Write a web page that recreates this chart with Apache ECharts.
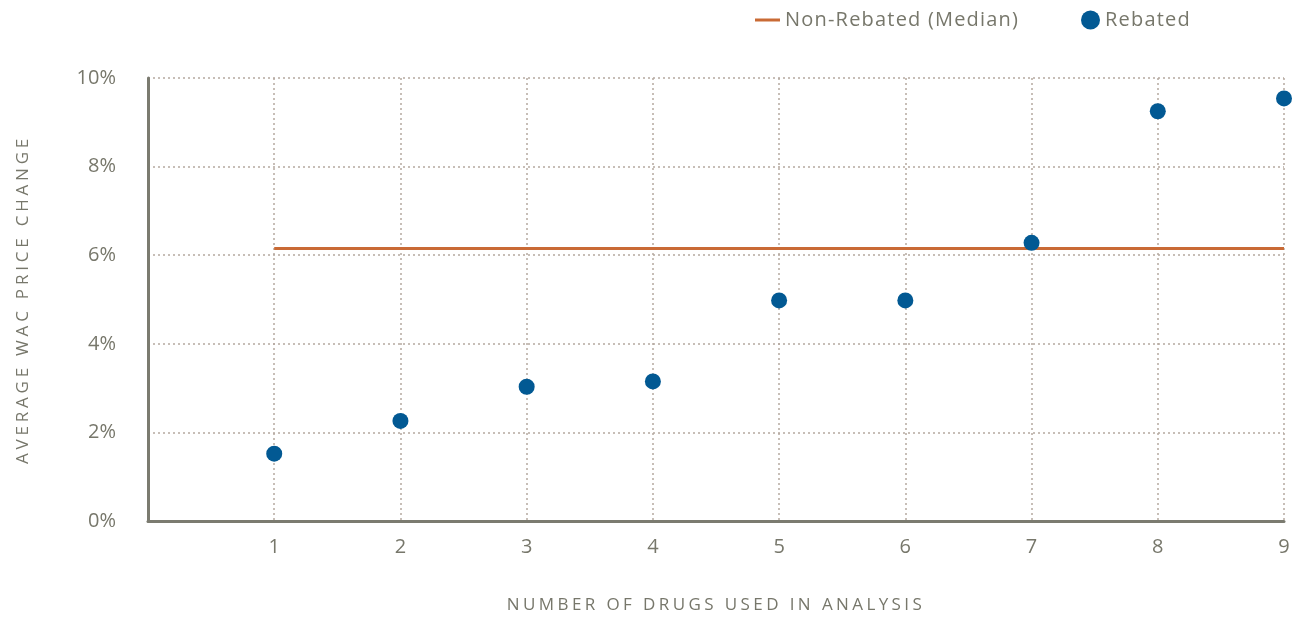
<!DOCTYPE html>
<html>
<head>
<meta charset="utf-8">
<script src="https://cdn.jsdelivr.net/npm/echarts@6/dist/echarts.min.js"></script>
<style>html,body{margin:0;padding:0;background:#fff}#c{width:1295px;height:619px}</style>
</head>
<body>
<div id="c"></div>
<script>
const drugCounts = [1, 2, 3, 4, 5, 6, 7, 8, 9];
const rebatedValues = [1.52, 2.26, 3.03, 3.15, 4.98, 4.98, 6.28, 9.25, 9.54];
const medianValue = 6.15;
const medianRange = [1, 9];
const yTicks = [0, 2, 4, 6, 8, 10];
const seriesNames = ['Non-Rebated (Median)', 'Rebated'];
const xAxisTitle = 'NUMBER OF DRUGS USED IN ANALYSIS';
const yAxisTitle = 'AVERAGE WAC PRICE CHANGE';

// tracking (letter spacing) applied at draw time, to mimic the wide source typeface
const tracking = {};
tracking[xAxisTitle] = 3.4;
tracking[yAxisTitle] = 3.8;
tracking[seriesNames[0]] = 1.2;
tracking[seriesNames[1]] = 1.2;
(function () {
  const proto = CanvasRenderingContext2D.prototype;
  const orig = proto.fillText;
  proto.fillText = function (t, x, y, m) {
    if ('letterSpacing' in this) {
      this.letterSpacing = (tracking[t] || 0) + 'px';
    }
    if (m === undefined) orig.call(this, t, x, y); else orig.call(this, t, x, y, m);
    if ('letterSpacing' in this) this.letterSpacing = '0px';
  };
})();

const textColor = '#77776b';
const font = '"Open Sans", sans-serif';
const chart = echarts.init(document.getElementById('c'));
chart.setOption({
  animation: false,
  grid: { left: 148, right: 11, top: 78, bottom: 97 },
  legend: [
    { data: [seriesNames[0]], left: 750, top: 5, itemWidth: 25, itemHeight: 3, icon: 'rect',
      textStyle: { color: textColor, fontSize: 20, fontFamily: font }, itemGap: 10 },
    { data: [seriesNames[1]], left: 1076, top: 5, itemWidth: 19, itemHeight: 19, icon: 'circle',
      textStyle: { color: textColor, fontSize: 20, fontFamily: font }, itemGap: 10 }
  ],
  xAxis: {
    type: 'value', min: 0, max: 9, interval: 1,
    name: xAxisTitle, nameLocation: 'middle', nameGap: 76,
    nameTextStyle: { color: textColor, fontSize: 17, fontFamily: font },
    axisLine: { show: true, onZero: false, lineStyle: { color: '#7b7b70', width: 3 } },
    axisTick: { show: false },
    axisLabel: { color: textColor, fontSize: 20, fontFamily: font, margin: 16,
      formatter: v => (v === 0 ? '' : String(v)) },
    splitLine: { show: true, lineStyle: { color: '#b5a9a0', type: [2, 3], width: 1.5 } }
  },
  yAxis: {
    type: 'value', min: 0, max: 10, interval: 2,
    name: yAxisTitle, nameLocation: 'middle', nameGap: 116, nameRotate: 90,
    nameTextStyle: { color: textColor, fontSize: 17, fontFamily: font },
    axisLine: { show: true, lineStyle: { color: '#7b7b70', width: 3 } },
    axisTick: { show: false },
    axisLabel: { color: textColor, fontSize: 20, fontFamily: font, margin: 32,
      formatter: v => (yTicks.includes(v) ? v + '%' : '') },
    splitLine: { show: true, lineStyle: { color: '#b5a9a0', type: [2, 3], width: 1.5 } }
  },
  series: [
    { name: seriesNames[0], type: 'line', symbol: 'none',
      data: medianRange.map(x => [x, medianValue]),
      lineStyle: { color: '#c96a35', width: 3 }, itemStyle: { color: '#c96a35' }, z: 2 },
    { name: seriesNames[1], type: 'scatter', symbolSize: 16,
      data: drugCounts.map((x, i) => [x, rebatedValues[i]]),
      itemStyle: { color: '#025993', opacity: 1 }, z: 3 }
  ]
});
</script>
</body>
</html>
